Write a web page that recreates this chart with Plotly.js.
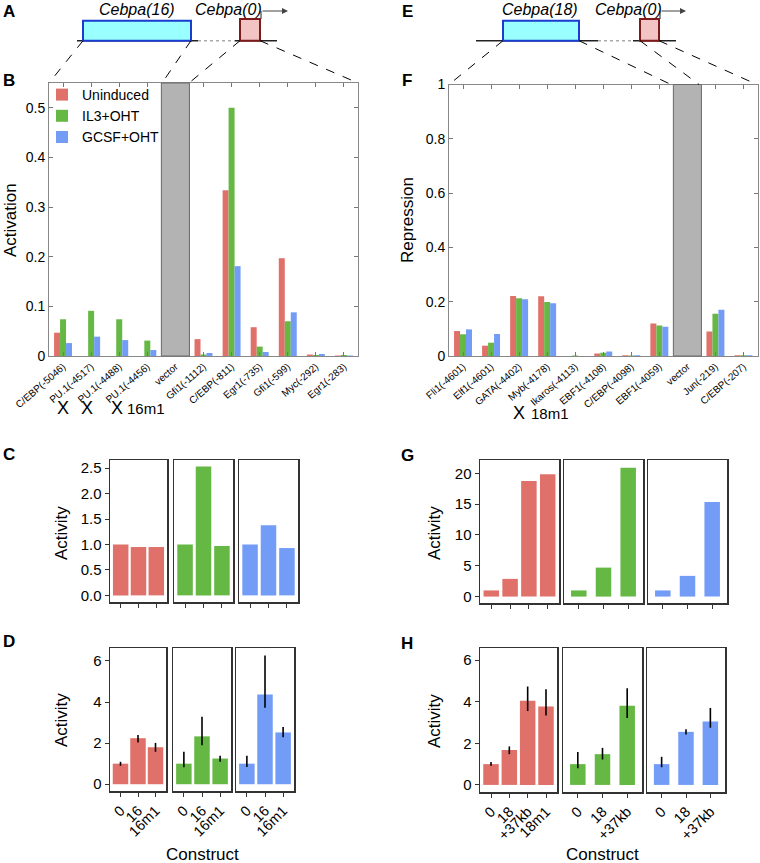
<!DOCTYPE html>
<html>
<head>
<meta charset="utf-8">
<script src="https://cdn.plot.ly/plotly-3.0.1.min.js"></script>
<style>
body { margin: 0; background: #fff; }
#fig { width: 760px; height: 863px; }
</style>
</head>
<body>
<div id="fig"></div>
<script>
// B: Cebpa(16) and Cebpa(0) sites, activation
var bSites = ['C/EBP(-5046)', 'PU.1(-4517)', 'PU.1(-4488)', 'PU.1(-4456)', 'vector', 'Gfi1(-1112)',
  'C/EBP(-811)', 'Egr1(-735)', 'Gfi1(-599)', 'Myc(-292)', 'Egr1(-283)'];
var bUninduced = [0.047, 0, 0, 0, null, 0.034, 0.334, 0.058, 0.197, 0.003, 0.001];
var bIL3 = [0.074, 0.091, 0.074, 0.031, null, 0.003, 0.5, 0.019, 0.07, 0.002, 0.002];
var bGCSF = [0.026, 0.039, 0.032, 0.012, null, 0.006, 0.181, 0.008, 0.088, 0.004, 0.001];

// F: Cebpa(18) and Cebpa(0) sites, repression
var fSites = ['Fli1(-4601)', 'Elf1(-4601)', 'GATA(-4402)', 'Myb(-4178)', 'Ikaros(-4113)', 'EBF1(-4108)',
  'C/EBP(-4098)', 'EBF1(-4059)', 'vector', 'Jun(-219)', 'C/EBP(-207)'];
var fUninduced = [0.092, 0.038, 0.221, 0.22, 0, 0.009, 0.003, 0.12, null, 0.09, 0.003];
var fIL3 = [0.08, 0.049, 0.213, 0.199, 0.002, 0.012, 0.002, 0.112, null, 0.156, 0.003];
var fGCSF = [0.098, 0.081, 0.209, 0.194, 0, 0.017, 0.003, 0.108, null, 0.17, 0.003];

var conditions = ['Uninduced', 'IL3+OHT', 'GCSF+OHT'];

// C: predicted activity
var cLabels = ['0', '16', '16m1'];
var cUninduced = [1.0, 0.95, 0.95];
var cIL3 = [1.0, 2.53, 0.97];
var cGCSF = [1.0, 1.38, 0.93];

// D: measured activity, with error bar ends
var dLabels = ['0', '16', '16m1'];
var dUninduced = [1.0, 2.24, 1.8];
var dUninducedLo = [0.9, 2.03, 1.58];
var dUninducedHi = [1.09, 2.39, 2.01];
var dIL3 = [1.0, 2.33, 1.25];
var dIL3Lo = [0.82, 1.9, 1.09];
var dIL3Hi = [1.58, 3.28, 1.38];
var dGCSF = [1.0, 4.37, 2.52];
var dGCSFLo = [0.84, 3.72, 2.28];
var dGCSFHi = [1.38, 6.26, 2.78];

// G: predicted activity
var gLabelsRed = ['0', '18', '+37kb', '18m1'];
var gLabels = ['0', '18', '+37kb'];
var gUninduced = [1.0, 2.87, 18.75, 19.85];
var gIL3 = [1.0, 4.7, 20.9];
var gGCSF = [1.0, 3.36, 15.35];

// H: measured activity, with error bar ends
var hUninduced = [1.0, 1.68, 4.05, 3.77];
var hUninducedLo = [0.92, 1.48, 3.55, 3.34];
var hUninducedHi = [1.1, 1.85, 4.73, 4.6];
var hIL3 = [1.0, 1.48, 3.8];
var hIL3Lo = [0.8, 1.22, 3.22];
var hIL3Hi = [1.58, 1.78, 4.65];
var hGCSF = [1.0, 2.55, 3.05];
var hGCSFLo = [0.85, 2.42, 2.75];
var hGCSFHi = [1.35, 2.68, 3.7];

var W = 760, H = 863;
var colors = ['#e0716a', '#66b845', '#739cf7'];
var fontFam = 'Liberation Sans, Arial, sans-serif';

function px(x) { return x / W; }
function py(y) { return 1 - y / H; }
function idx(arr) { return arr.map(function (_, i) { return i; }); }

var data = [];
var layout = {
  width: W, height: H,
  margin: {l: 0, r: 0, t: 0, b: 0},
  paper_bgcolor: '#fff', plot_bgcolor: '#fff',
  font: {family: fontFam, color: '#000'},
  barmode: 'group', bargap: 0.36, bargroupgap: 0,
  showlegend: true,
  legend: {x: px(42), y: py(79), xanchor: 'left', yanchor: 'top', bgcolor: 'rgba(0,0,0,0)',
    font: {size: 14}, tracegroupgap: 0, itemwidth: 30},
  shapes: [],
  annotations: []
};

function seg(x0, y0, x1, y1, color, w, dash) {
  layout.shapes.push({type: 'line', xref: 'paper', yref: 'paper', x0: px(x0), y0: py(y0), x1: px(x1), y1: py(y1),
    line: {color: color, width: w, dash: dash || 'solid'}});
}
function box(x0, y0, x1, y1, fill, color) {
  layout.shapes.push({type: 'rect', xref: 'paper', yref: 'paper', x0: px(x0), y0: py(y1), x1: px(x1), y1: py(y0),
    fillcolor: fill, line: {color: color, width: 2}});
}
function label(x, y, text, size, extra) {
  var a = {xref: 'paper', yref: 'paper', x: px(x), y: py(y), text: text, showarrow: false,
    font: {size: size, family: fontFam, color: '#000'}, xanchor: 'center', yanchor: 'middle'};
  for (var k in extra) a[k] = extra[k];
  layout.annotations.push(a);
}

function sitePanel(n, sites, vals, left, right, top, bottom, ymax, dtick, vecIdx) {
  var xa = n == 1 ? 'x' : 'x' + n, ya = n == 1 ? 'y' : 'y' + n;
  for (var k = 0; k < 3; k++) {
    data.push({type: 'bar', x: idx(sites), y: vals[k], name: conditions[k], marker: {color: colors[k]},
      xaxis: xa, yaxis: ya, showlegend: n == 1, hoverinfo: 'y'});
  }
  layout['xaxis' + (n == 1 ? '' : n)] = {
    domain: [px(left), px(right)], anchor: ya, range: [-0.5, sites.length - 0.5],
    tickvals: idx(sites), ticktext: sites, tickangle: -41, tickfont: {size: 10},
    ticks: 'inside', ticklen: 4, tickcolor: '#777', showline: true, mirror: 'ticks',
    linecolor: '#888', linewidth: 1, showgrid: false, zeroline: false
  };
  layout['yaxis' + (n == 1 ? '' : n)] = {
    domain: [py(bottom), py(top)], anchor: xa, range: [0, ymax], tick0: 0, dtick: dtick,
    tickfont: {size: 14}, ticks: 'inside', ticklen: 4, tickcolor: '#777', showline: true, mirror: 'ticks',
    linecolor: '#888', linewidth: 1, showgrid: false, zeroline: false
  };
  layout.shapes.push({type: 'rect', xref: xa, yref: ya + ' domain', x0: vecIdx - 0.5, x1: vecIdx + 0.5, y0: 0, y1: 1,
    fillcolor: '#b3b3b3', line: {color: '#6a6a6a', width: 1}});
}

function facetPanel(start, boxes, top, bottom, labels, vals, lo, hi, yr, dtick, fmt, showText) {
  for (var j = 0; j < 3; j++) {
    var n = start + j;
    var nx = labels[j].length;
    var perUnit = (boxes[j][1] - boxes[j][0]) / (nx + 0.2);
    var tr = {type: 'bar', x: idx(labels[j]), y: vals[j], width: 15.5 / perUnit, marker: {color: colors[j]},
      xaxis: 'x' + n, yaxis: 'y' + n, showlegend: false, hoverinfo: 'y'};
    if (lo) {
      var v = vals[j];
      tr.error_y = {type: 'data', symmetric: false,
        array: hi[j].map(function (h, i) { return h - v[i]; }),
        arrayminus: lo[j].map(function (l, i) { return v[i] - l; }),
        color: '#000', thickness: 1.6, width: 0};
    }
    data.push(tr);
    layout['xaxis' + n] = {
      domain: [px(boxes[j][0]), px(boxes[j][1])], anchor: 'y' + n, range: [-0.6, nx - 0.4],
      tickvals: idx(labels[j]), ticktext: labels[j], showticklabels: showText, tickangle: -45,
      tickfont: {size: 14.5}, ticks: 'outside', ticklen: 4, tickcolor: '#333', showline: true, mirror: true,
      linecolor: '#333', linewidth: 1.5, showgrid: false, zeroline: false
    };
    layout['yaxis' + n] = {
      domain: [py(bottom), py(top)], anchor: 'x' + n, range: yr, tick0: 0, dtick: dtick, tickformat: fmt,
      showticklabels: j == 0, ticks: j == 0 ? 'outside' : '', ticklen: 4, tickcolor: '#333',
      tickfont: {size: 15}, showline: true, mirror: true, linecolor: '#333', linewidth: 1.5,
      showgrid: false, zeroline: false
    };
  }
}

sitePanel(1, bSites, [bUninduced, bIL3, bGCSF], 49, 358, 83, 356, 0.55, 0.1, 4);
sitePanel(2, fSites, [fUninduced, fIL3, fGCSF], 449, 757.5, 84.5, 356, 1, 0.2, 8);

facetPanel(3, [[110, 167], [174, 233], [239, 298]], 460, 602, [cLabels, cLabels, cLabels],
  [cUninduced, cIL3, cGCSF], null, null, [-0.13, 2.66], 0.5, '.1f', false);
facetPanel(6, [[110, 166], [173, 231], [236, 294]], 648, 791, [dLabels, dLabels, dLabels],
  [dUninduced, dIL3, dGCSF], [dUninducedLo, dIL3Lo, dGCSFLo], [dUninducedHi, dIL3Hi, dGCSFHi],
  [-0.33, 6.63], 2, '', true);
facetPanel(9, [[480, 559], [564, 643], [648, 727]], 460, 603, [gLabelsRed, gLabels, gLabels],
  [gUninduced, gIL3, gGCSF], null, null, [-1.04, 22.15], 5, '', false);
facetPanel(12, [[480, 557], [563, 642], [647, 725]], 648, 792, [gLabelsRed, gLabels, gLabels],
  [hUninduced, hIL3, hGCSF], [hUninducedLo, hIL3Lo, hGCSFLo], [hUninducedHi, hIL3Hi, hGCSFHi],
  [-0.34, 6.58], 2, '', true);

// A: locus diagram
seg(77, 40.7, 198, 40.7, '#222', 1.5);
seg(198, 40.7, 235, 40.7, '#aaa', 1.5, 'dot');
seg(235, 40.7, 277, 40.7, '#222', 1.5);
box(83, 20.7, 191, 40.7, '#99ffff', '#1a3cd0');
box(240, 19, 260, 40.7, '#f3c4c4', '#7e1a1a');
seg(261, 19, 261, 11, '#444', 1.2);
seg(83, 40.7, 49, 83, '#000', 1, 'dash');
seg(191, 40.7, 162, 83, '#000', 1, 'dash');
seg(240, 40.7, 189, 83, '#000', 1, 'dash');
seg(260, 40.7, 358, 83, '#000', 1, 'dash');
layout.annotations.push({xref: 'paper', yref: 'paper', x: px(288), y: py(11), ax: -27, ay: 0, text: '',
  showarrow: true, arrowhead: 2, arrowsize: 1, arrowwidth: 1.2, arrowcolor: '#444'});
label(137, 9.5, '<i>Cebpa(16)</i>', 16);
label(228, 9.5, '<i>Cebpa(0)</i>', 16);

// E: locus diagram
seg(476, 40.7, 598, 40.7, '#222', 1.5);
seg(598, 40.7, 633, 40.7, '#aaa', 1.5, 'dot');
seg(633, 40.7, 676, 40.7, '#222', 1.5);
box(503, 20.7, 579, 40.7, '#99ffff', '#1a3cd0');
box(640, 19, 659, 40.7, '#f3c4c4', '#7e1a1a');
seg(660, 19, 660, 11, '#444', 1.2);
seg(503, 40.7, 449, 84.5, '#000', 1, 'dash');
seg(579, 40.7, 671, 84.5, '#000', 1, 'dash');
seg(640, 40.7, 699, 84.5, '#000', 1, 'dash');
seg(659, 40.7, 757, 84.5, '#000', 1, 'dash');
layout.annotations.push({xref: 'paper', yref: 'paper', x: px(686), y: py(11), ax: -26, ay: 0, text: '',
  showarrow: true, arrowhead: 2, arrowsize: 1, arrowwidth: 1.2, arrowcolor: '#444'});
label(540, 9.5, '<i>Cebpa(18)</i>', 16);
label(628, 9.5, '<i>Cebpa(0)</i>', 16);

// panel letters
var letters = [['A', 9, 12], ['B', 9, 81], ['C', 9, 454], ['D', 9, 641],
  ['E', 407, 12], ['F', 407, 81], ['G', 407, 455], ['H', 407, 643]];
letters.forEach(function (l) { label(l[1], l[2], '<b>' + l[0] + '</b>', 17); });

// axis titles
label(10, 220, 'Activation', 17, {textangle: -90});
label(407, 220, 'Repression', 17, {textangle: -90});
label(61, 533, 'Activity', 17, {textangle: -90});
label(61, 720, 'Activity', 17, {textangle: -90});
label(434, 533, 'Activity', 17, {textangle: -90});
label(434, 721, 'Activity', 17, {textangle: -90});
label(202, 854, 'Construct', 17);
label(602, 854, 'Construct', 17);

// mutated sites
label(63, 408, 'X', 18);
label(87, 408, 'X', 18);
label(117, 408, 'X', 18);
label(146, 408, '16m1', 15);
label(519, 413, 'X', 18);
label(550, 413, '18m1', 15);

Plotly.newPlot('fig', data, layout, {staticPlot: true});
</script>
</body>
</html>
